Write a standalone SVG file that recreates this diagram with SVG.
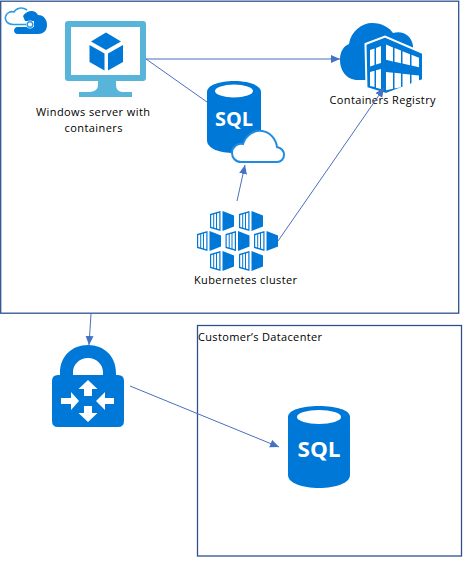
<svg xmlns="http://www.w3.org/2000/svg" width="468" height="564" viewBox="0 0 468 564">
<style>
.frame{fill:#fff;stroke:#2f528f;stroke-width:1.3}
.lbl{font-family:"Open Sans","Noto Sans",sans-serif;font-size:11px;fill:#000}
.sql{font-family:"Open Sans","Noto Sans",sans-serif;font-weight:700;fill:#fff}
.b{fill:#0078d7}
.w{fill:#fff}
.conn{fill:none;stroke:#4a6fbd;stroke-width:1}
</style>
<defs>
<marker id="arr" markerUnits="userSpaceOnUse" markerWidth="10" markerHeight="9" refX="9" refY="4" orient="auto"><path d="M0 0L9 4L0 8Z" fill="#4472c4"/></marker>
<g id="cube">
<path class="b" d="M0 3L10.500 0V20L0 17Z"/>
<path class="b" d="M12.500 0L24 4.500V15.500L12.500 20Z"/>
<path class="w" d="M1.200 4.200L3.200 3.600V16.400L1.200 15.800ZM4.200 3.300L6 2.800V17.200L4.200 16.700ZM7 2.500L9.300 1.800V18.200L7 17.500Z"/>
</g>
</defs>
<rect class="frame" x="0.700" y="1.200" width="458" height="312"/>
<rect class="frame" x="197.500" y="325.500" width="264" height="230.500"/>
<g id="azure-cloud">
<path class="b" d="M17 34C13 33 13 28 17 27H34V21H25L23 16C27 10 35 9 38 15C44 15 47 20 47 25C47 31 43 34 38 34Z"/>
<path d="M27 24.500H13C7 24.500 4.500 20 5.500 16.500C6.500 12.500 11 11 14 12C16 8 22 6.500 27 10" fill="none" stroke="#fff" stroke-width="3"/>
<path d="M27 24.500H13C7 24.500 4.500 20 5.500 16.500C6.500 12.500 11 11 14 12C16 8 22 6.500 27 10" fill="none" stroke="#2a9be8" stroke-width="1.600"/>
<circle cx="30" cy="24.500" r="4" fill="#fff"/>
<circle cx="30" cy="24.500" r="2.800" fill="#fff" stroke="#2a9be8" stroke-width="1.500"/>
</g>
<g id="windows-server">
<path d="M68 21H143Q146 21 146 24V78Q146 81 143 81H116V85Q116 91 122 92H132V97H79V92H90Q98 91 98 85V81H68Q65 81 65 78V24Q65 21 68 21Z" fill="#59b4d9"/>
<rect class="w" x="71" y="27" width="69" height="48"/>
<path class="b" d="M106 32.500L121 41.500L106 50L91 41.500Z"/>
<path class="b" d="M89.500 45L104.500 53.500V70.500L89.500 62Z"/>
<path class="b" d="M123 45L108 53.500V70.500L123 62Z"/>
<text class="lbl" x="93" y="116" text-anchor="middle" textLength="114">Windows server with</text>
<text class="lbl" x="93.500" y="132" text-anchor="middle" textLength="58">containers</text>
</g>
<g id="containers-registry">
<path class="b" d="M358 80C346 80 340 70 340 60C340 51 344 46 349 44C351 31 362 23 372 23C382 23 390 28 393 33C403 30 412 36 413 46V80Z"/>
<path class="b" stroke="#fff" stroke-width="2" d="M365.500 44L385 36.500L423 53V80L386 94L366.500 88Z"/>
<path class="w" d="M370 50L374.500 48.500V65L370 66.500ZM376 48L381 46V63L376 64.500ZM386 44.600L393 47.400V61.400L386 59.800ZM394.500 48L401 50.600V63.200L394.500 61.700ZM402.500 51.200L410 54.200V65.300L402.500 63.600ZM411.500 54.800L419 57.800V67.300L411.500 65.600ZM370 72L374.500 70.800V87L370 86ZM376 70.300L381 69V89L376 87.800ZM386 72L393 72.700V88.800L386 90.200ZM394.500 72.800L401 73.500V87.200L394.500 88.500ZM402.500 73.700L410 74.500V85.400L402.500 86.900ZM411.500 74.700L419 75.500V83.600L411.500 85.100Z"/>
<text class="lbl" x="382.500" y="104" text-anchor="middle" textLength="106">Containers Registry</text>
</g>
<g id="sql-cloud">
<path class="b" d="M207 92C207 85 220 81 234 81C248 81 261 85 261 92V140C261 149 248 153 234 153C220 153 207 149 207 140Z"/>
<ellipse class="w" cx="234" cy="91" rx="19" ry="6.500"/>
<text class="sql" x="234" y="126" text-anchor="middle" font-size="20" textLength="38" lengthAdjust="spacingAndGlyphs">SQL</text>
<path d="M241 162C235 162 232 157 232 153C232 147 237 143 243 144C246 135 254 130 262 131C270 132 276 139 277 147C281 148 284 151 284 155C284 159 281 162 277 162Z" fill="#fff" stroke="#1e8ce0" stroke-width="2"/>
</g>
<g id="kubernetes-cluster">
<use href="#cube" x="210" y="211"/>
<use href="#cube" x="239" y="211"/>
<use href="#cube" x="197" y="231"/>
<use href="#cube" x="225.500" y="231"/>
<use href="#cube" x="254" y="231"/>
<use href="#cube" x="210" y="251"/>
<use href="#cube" x="239" y="251"/>
<text class="lbl" x="245.500" y="284" text-anchor="middle" textLength="103">Kubernetes cluster</text>
</g>
<g id="vpn-gateway">
<path class="b" d="M60 376V373C60 356 72 345 88 345C104 345 116 356 116 373V376H103V372C103 365 97 358 88 358C79 358 73 365 73 372V376Z"/>
<path class="b" d="M58 375H118Q124 375 124 381V421Q124 427 118 427H58Q52 427 52 421V381Q52 375 58 375Z"/>
<path class="w" d="M88 380L97.500 389H92V396H84V389H78.500Z"/>
<path class="w" d="M88 422L97.500 413H92V406H84V413H78.500Z"/>
<path class="w" d="M79 401L71 392V398H61V404H71V410Z"/>
<path class="w" d="M96 401L105 392V398H114V404H105V410Z"/>
</g>
<g id="customers-datacenter">
<text class="lbl" x="198" y="341" textLength="124">Customer’s Datacenter</text>
</g>
<g id="sql-onprem">
<path class="b" d="M288 417C288 410 302 406 319 406C336 406 350 410 350 417V475C350 483 336 488 319 488C302 488 288 483 288 475Z"/>
<ellipse class="w" cx="319" cy="417" rx="22" ry="7"/>
<text class="sql" x="319" y="457" text-anchor="middle" font-size="22" textLength="43" lengthAdjust="spacingAndGlyphs">SQL</text>
</g>
<g id="connectors">
<line class="conn" x1="146" y1="59" x2="340" y2="59" marker-end="url(#arr)"/>
<line class="conn" x1="146" y1="59" x2="207" y2="102"/>
<line class="conn" x1="237" y1="201" x2="245" y2="165" marker-end="url(#arr)"/>
<line class="conn" x1="278" y1="241" x2="384" y2="88" marker-end="url(#arr)"/>
<line class="conn" x1="91" y1="314" x2="89" y2="345" marker-end="url(#arr)"/>
<line class="conn" x1="130" y1="386" x2="279" y2="447" marker-end="url(#arr)"/>
</g>
</svg>
